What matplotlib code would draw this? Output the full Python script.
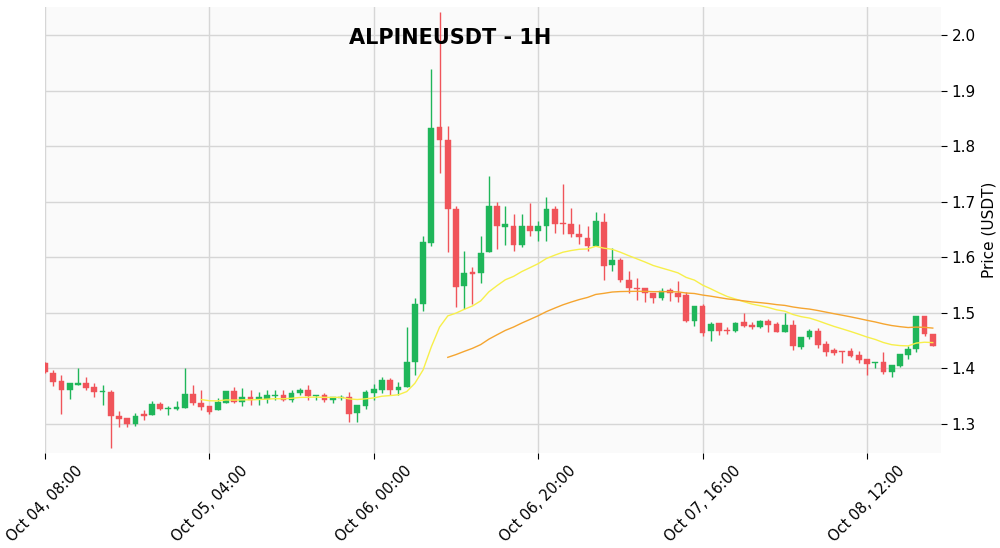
import numpy as np
import pandas as pd
import matplotlib
matplotlib.use("Agg")
import matplotlib.pyplot as plt

# hourly candles, Oct 04 08:00 onwards
opens = [1.410, 1.392, 1.377, 1.362, 1.371, 1.374, 1.366, 1.358, 1.358, 1.314,
         1.311, 1.301, 1.318, 1.316, 1.336, 1.328, 1.327, 1.329, 1.354, 1.337,
         1.332, 1.325, 1.338, 1.360, 1.340, 1.349, 1.345, 1.345, 1.351, 1.352,
         1.344, 1.355, 1.362, 1.351, 1.352, 1.343, 1.347, 1.349, 1.320, 1.333,
         1.356, 1.361, 1.379, 1.362, 1.366, 1.412, 1.516, 1.625, 1.834, 1.811,
         1.687, 1.549, 1.573, 1.571, 1.609, 1.693, 1.654, 1.657, 1.623, 1.657,
         1.647, 1.657, 1.686, 1.662, 1.660, 1.642, 1.635, 1.621, 1.664, 1.586,
         1.595, 1.560, 1.545, 1.544, 1.535, 1.526, 1.541, 1.536, 1.532, 1.486,
         1.513, 1.467, 1.482, 1.470, 1.467, 1.483, 1.479, 1.474, 1.486, 1.480,
         1.466, 1.479, 1.438, 1.456, 1.468, 1.444, 1.433, 1.431, 1.431, 1.424,
         1.417, 1.409, 1.412, 1.394, 1.404, 1.424, 1.435, 1.494, 1.462]
highs = [1.412, 1.398, 1.388, 1.373, 1.400, 1.385, 1.373, 1.371, 1.361, 1.323,
         1.311, 1.320, 1.326, 1.341, 1.339, 1.332, 1.341, 1.400, 1.370, 1.362,
         1.332, 1.346, 1.360, 1.367, 1.364, 1.362, 1.358, 1.361, 1.361, 1.361,
         1.361, 1.364, 1.370, 1.353, 1.355, 1.348, 1.352, 1.358, 1.334, 1.362,
         1.372, 1.385, 1.382, 1.376, 1.474, 1.526, 1.639, 1.938, 2.042, 1.836,
         1.692, 1.611, 1.582, 1.639, 1.747, 1.699, 1.693, 1.678, 1.678, 1.698,
         1.665, 1.708, 1.692, 1.732, 1.689, 1.660, 1.657, 1.682, 1.680, 1.616,
         1.598, 1.575, 1.562, 1.545, 1.536, 1.545, 1.545, 1.557, 1.538, 1.513,
         1.516, 1.483, 1.482, 1.474, 1.483, 1.500, 1.483, 1.488, 1.489, 1.483,
         1.500, 1.488, 1.457, 1.471, 1.473, 1.449, 1.436, 1.432, 1.436, 1.432,
         1.417, 1.411, 1.430, 1.406, 1.426, 1.441, 1.495, 1.495, 1.462]
lows = [1.392, 1.369, 1.318, 1.345, 1.371, 1.362, 1.349, 1.335, 1.257, 1.295,
        1.295, 1.297, 1.308, 1.316, 1.325, 1.316, 1.325, 1.329, 1.334, 1.325,
        1.319, 1.325, 1.337, 1.338, 1.332, 1.334, 1.335, 1.337, 1.344, 1.342,
        1.340, 1.352, 1.344, 1.344, 1.340, 1.338, 1.343, 1.304, 1.304, 1.328,
        1.343, 1.355, 1.352, 1.352, 1.366, 1.388, 1.504, 1.620, 1.751, 1.610,
        1.511, 1.507, 1.516, 1.553, 1.609, 1.615, 1.623, 1.612, 1.618, 1.639,
        1.630, 1.630, 1.644, 1.641, 1.636, 1.624, 1.612, 1.621, 1.559, 1.575,
        1.556, 1.536, 1.523, 1.520, 1.517, 1.523, 1.521, 1.520, 1.483, 1.476,
        1.458, 1.450, 1.460, 1.462, 1.465, 1.474, 1.471, 1.472, 1.465, 1.465,
        1.465, 1.433, 1.435, 1.453, 1.436, 1.423, 1.424, 1.409, 1.420, 1.409,
        1.388, 1.400, 1.390, 1.385, 1.402, 1.417, 1.429, 1.458, 1.440]
closes = [1.394, 1.376, 1.362, 1.373, 1.374, 1.365, 1.357, 1.360, 1.315, 1.310,
          1.301, 1.315, 1.315, 1.336, 1.327, 1.329, 1.330, 1.354, 1.338, 1.331,
          1.322, 1.339, 1.360, 1.340, 1.348, 1.344, 1.349, 1.352, 1.353, 1.344,
          1.355, 1.362, 1.351, 1.352, 1.343, 1.348, 1.348, 1.319, 1.334, 1.357,
          1.363, 1.379, 1.362, 1.367, 1.412, 1.516, 1.627, 1.833, 1.811, 1.686,
          1.547, 1.571, 1.570, 1.608, 1.693, 1.656, 1.659, 1.623, 1.657, 1.648,
          1.657, 1.686, 1.660, 1.660, 1.641, 1.636, 1.621, 1.665, 1.584, 1.595,
          1.559, 1.545, 1.543, 1.536, 1.526, 1.539, 1.536, 1.529, 1.486, 1.513,
          1.464, 1.480, 1.467, 1.467, 1.482, 1.476, 1.474, 1.485, 1.479, 1.466,
          1.479, 1.441, 1.456, 1.467, 1.442, 1.430, 1.427, 1.429, 1.423, 1.415,
          1.408, 1.411, 1.394, 1.406, 1.426, 1.435, 1.494, 1.462, 1.440]

tick_pos = [0, 20, 40, 60, 80, 100]
tick_labels = ["Oct 04, 08:00", "Oct 05, 04:00", "Oct 06, 00:00",
               "Oct 06, 20:00", "Oct 07, 16:00", "Oct 08, 12:00"]

UP, DOWN = "#1fb65a", "#f0545a"
BG, GRID = "#fafafa", "#d6d6d6"

df = pd.DataFrame({"o": opens, "h": highs, "l": lows, "c": closes})
idx = np.arange(len(df))
up = df.c >= df.o
cols = np.where(up, UP, DOWN)


def ema(s, n):
    e = s.ewm(span=n, adjust=False).mean()
    e.iloc[:n - 1] = np.nan
    return e


ema20 = ema(df.c, 20)
ema50 = ema(df.c, 50)

fig = plt.figure(figsize=(10, 5.48), dpi=100)
ax = fig.add_axes([0.045, 0.1734, 0.896, 0.8136])
ax.set_facecolor(BG)
for sp in ax.spines.values():
    sp.set_visible(False)
ax.grid(True, color=GRID, lw=1.0, zorder=0)
ax.set_axisbelow(True)

ax.vlines(idx, df.l, df.h, colors=cols, lw=1.0, zorder=2)
body = (df.c - df.o).abs().clip(lower=0.0015)
ax.bar(idx, body, bottom=np.minimum(df.o, df.c), width=0.7,
       color=cols, edgecolor=cols, lw=0.3, zorder=3)

ax.plot(idx, ema20, color="#f7ef4a", lw=1.0, zorder=4)
ax.plot(idx, ema50, color="#f5a530", lw=1.0, zorder=4)

ax.set_xlim(0, 109)
ax.set_ylim(1.248, 2.050)
ax.set_xticks(tick_pos)
ax.set_xticklabels(tick_labels, rotation=45, fontsize=10.5)
ax.set_yticks([1.3, 1.4, 1.5, 1.6, 1.7, 1.8, 1.9, 2.0])
ax.yaxis.tick_right()
ax.yaxis.set_label_position("right")
ax.tick_params(axis="y", labelsize=11, length=4, left=False)
ax.tick_params(axis="x", length=4)
ax.set_ylabel("Price (USDT)", fontsize=11)

fig.text(0.45, 0.931, "ALPINEUSDT - 1H", ha="center", va="center",
         fontsize=15, fontweight="bold")

fig.savefig("out.png", dpi=100, facecolor="white")
